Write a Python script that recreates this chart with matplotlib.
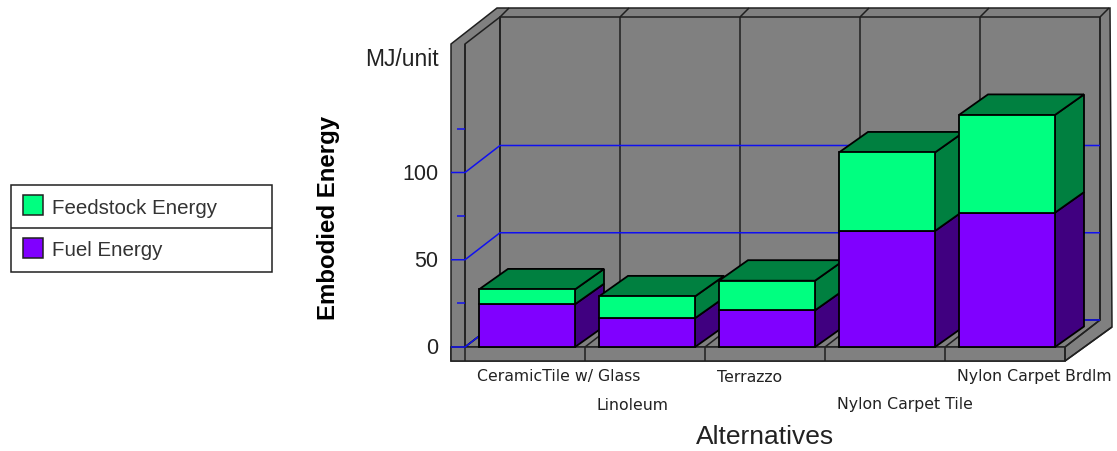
import matplotlib
matplotlib.use('Agg')
import matplotlib.pyplot as plt
from matplotlib.patches import Polygon, Rectangle
from matplotlib.transforms import Affine2D

# Valores (MJ/unit)
categorias = ['CeramicTile w/ Glass', 'Linoleum', 'Terrazzo',
              'Nylon Carpet Tile', 'Nylon Carpet Brdlm']
fuel = [24.5, 16.5, 21, 66.5, 77]
feedstock = [8.5, 12.5, 17, 45, 56]
yticks = [0, 50, 100]
yticks_menores = [25, 75, 125]

W, H = 1117, 451
plt.rcParams['font.family'] = ['Liberation Sans', 'DejaVu Sans']

# escala: pixels por categoria e por MJ
PX_CAT = 120.0
PX_MJ = 1.745
X0 = 527.0
Y0 = 347.0
DX = 29 / PX_CAT    # profundidade das barras
DY = 20.5 / PX_MJ

CINZA = '#808080'
VERDE, VERDE_ESC = '#00FF80', '#008040'
ROXO, ROXO_ESC = '#8000FF', '#400080'
AZUL = '#1010F0'

fig = plt.figure(figsize=(W / 100, H / 100), dpi=100)
ax = fig.add_axes([0, 0, 1, 1])
ax.set_xlim(-X0 / PX_CAT, (W - X0) / PX_CAT)
ax.set_ylim((Y0 - H) / PX_MJ, Y0 / PX_MJ)
ax.axis('off')

# coordenadas em pixels para a moldura, legenda e textos
pix = Affine2D().scale(1 / W, -1 / H).translate(0, 1) + fig.transFigure


def poli(pts, cor, z=1):
    ax.add_patch(Polygon(pts, closed=True, fc=cor, ec='#202020', lw=1.1,
                         transform=pix, zorder=z, joinstyle='miter'))


def linha(xs, ys, cor='#202020', lw=1.1, z=2):
    ax.plot(xs, ys, color=cor, lw=lw, transform=pix, zorder=z,
            solid_capstyle='butt')


# moldura 3D
poli([(451, 44), (497, 8), (1110, 8), (1112, 327), (1065, 361), (451, 361)], CINZA)
poli([(465, 44), (500, 17), (500, 320), (465, 347)], CINZA)
poli([(500, 17), (1100, 17), (1100, 320), (500, 320)], CINZA)
poli([(465, 347), (500, 320), (1100, 320), (1065, 347)], CINZA)
poli([(451, 347), (1065, 347), (1065, 361), (451, 361)], CINZA)
linha([465, 465], [44, 347])
linha([1065, 1112], [361, 327])

# divisoes de categoria na parede, no topo e no piso
for i in range(len(categorias) + 1):
    xb = 500 + i * PX_CAT
    xf = 465 + i * PX_CAT
    linha([xb, xb], [17, 320])
    linha([xb, xb + 9], [17, 8])
    linha([xf, xf], [347, 361])
    linha([xf, xb], [347, 320])

# grade azul
for v in yticks:
    yf = Y0 - v * PX_MJ
    yb = yf - 27
    linha([451, 465, 500, 1100], [yf, yf, yb, yb], AZUL, 1.1, 3)
for v in yticks_menores:
    yf = Y0 - v * PX_MJ
    linha([457, 465], [yf, yf], AZUL, 1.1, 3)

# barras empilhadas
for i in range(len(categorias)):
    z = 10 + i
    base = 0
    for val, cor, esc in ((fuel[i], ROXO, ROXO_ESC), (feedstock[i], VERDE, VERDE_ESC)):
        ax.bar(i, val, width=0.8, bottom=base, color=cor, edgecolor='black',
               lw=1.3, zorder=z + 0.5)
        xd = i + 0.4
        ax.fill([xd, xd + DX, xd + DX, xd],
                [base, base + DY, base + val + DY, base + val],
                facecolor=esc, edgecolor='black', lw=1.3, zorder=z)
        base += val
    xe = i - 0.4
    ax.fill([xe, xe + DX, xd + DX, xd], [base, base + DY, base + DY, base],
            facecolor=VERDE_ESC, edgecolor='black', lw=1.3, zorder=z)

# rotulos dos eixos
for v in yticks:
    ax.text(438, Y0 + 2 - v * PX_MJ, str(v), transform=pix, ha='right', va='center',
            fontsize=15.5, color='#222222')
ax.text(439, 59, 'MJ/unit', transform=pix, ha='right', va='center',
        fontsize=16.5, color='#222222')
ax.text(328, 218, 'Embodied Energy', transform=pix, rotation=90, ha='center',
        va='center', fontsize=17.3, fontweight='bold', color='black')
ax.text(765, 437, 'Alternatives', transform=pix, ha='center', va='center',
        fontsize=19, color='#222222')

xs_cat = [477, 597, 717, 837, 957]
ys_cat = [377, 405, 377, 405, 377]
for nome, xc, yc in zip(categorias, xs_cat, ys_cat):
    ax.text(xc, yc, nome, transform=pix, ha='left', va='center', fontsize=11.3,
            color='#222222', family='DejaVu Sans')

# legenda
ax.add_patch(Rectangle((10.5, 184.5), 261, 87, fc='white', ec='#202020', lw=1.1,
                       transform=pix, zorder=5))
linha([10.5, 271.5], [227.5, 227.5], z=6)
for nome, cor, y in (('Feedstock Energy', VERDE, 195), ('Fuel Energy', ROXO, 238)):
    ax.add_patch(Rectangle((23, y), 20, 20, fc=cor, ec='#202020', lw=1.1,
                           transform=pix, zorder=6))
    ax.text(52, y + 13, nome, transform=pix, ha='left', va='center',
            fontsize=14.8, color='#333333', zorder=6)

fig.savefig('out.png', dpi=100)
